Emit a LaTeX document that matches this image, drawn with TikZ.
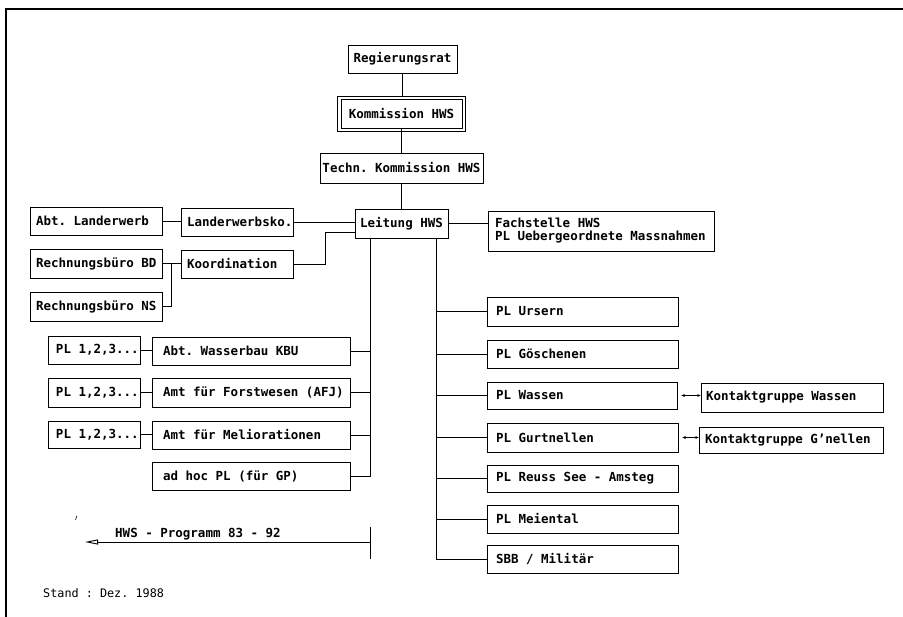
\documentclass[tikz,border=0pt]{standalone}
\usepackage{fontspec}
\newfontfamily\mono{DejaVu Sans Mono}
\usetikzlibrary{arrows.meta,calc}
\newcommand\bfont{\mono\bfseries\fontsize{12.5}{13}\selectfont\frenchspacing}
\newcommand\sfontx{\mono\fontsize{11.8}{13}\selectfont\frenchspacing}
\newcommand\fixsp{\frenchspacing\spaceskip=0pt\xspaceskip=0pt\relax}
% #1 extra style, #2 name, #3 x, #4 y (top), #5 width, #6 height, #7 pad, #8 text
\newcommand\bxn[8][]{%
  \pgfmathsetlengthmacro\bxtw{#5pt-2*#7pt}%
  \node[bx, minimum width=#5pt, minimum height=#6pt, inner xsep=#7pt, text width=\bxtw, #1] (#2) at (#3,#4) {\mbox{\fixsp #8}};}
\begin{document}
\begin{tikzpicture}[x=1pt,y=-1pt,
  bx/.style={draw, line width=0.9pt, anchor=north west, inner ysep=0pt, outer sep=0pt, align=left, font=\bfont},
  cn/.style={line width=0.9pt},
  ctr/.style={align=center}]
\useasboundingbox (0,0) rectangle (903,617);
% frame
\draw[line width=1.3pt] (6,617) -- (6,9) -- (903,9);
% top chain
\bxn[ctr]{reg}{348}{45}{109}{28}{2}{Regierungsrat}
\bxn[ctr, line width=0.8pt]{kom}{341}{99}{121}{29}{2}{Kommission HWS}
\draw[line width=0.8pt] ([shift={(-4pt,3pt)}]kom.north west) rectangle ([shift={(3pt,-3pt)}]kom.south east);
\bxn[ctr]{tech}{320}{153}{163}{30}{1}{Techn. Kommission HWS}
\bxn[ctr]{leit}{355}{209}{93}{29}{2}{Leitung HWS}
\node[bx, minimum width=226pt, minimum height=40pt, inner xsep=7pt, text width=212pt] (fach) at (488,211)
  {\mbox{\fixsp Fachstelle HWS}\\\mbox{\fixsp PL Uebergeordnete Massnahmen}};
% left group
\bxn{abtl}{30}{207}{132}{28}{6}{Abt. Landerwerb}
\bxn{lko}{181}{208}{112}{28}{6}{Landerwerbsko.}
\bxn{rbd}{30}{249}{132}{29}{6}{Rechnungsbüro BD}
\bxn{koord}{181}{250}{112}{28}{6}{Koordination}
\bxn{rns}{30}{292}{132}{29}{6}{Rechnungsbüro NS}
\bxn{pl1}{48}{336}{92}{28}{8}{PL 1,2,3...}
\bxn{wbau}{152}{337}{198}{28}{11}{Abt. Wasserbau KBU}
\bxn{pl2}{48}{378}{92}{29}{8}{PL 1,2,3...}
\bxn{forst}{152}{378}{198}{29}{11}{Amt für Forstwesen (AFJ)}
\bxn{pl3}{48}{421}{92}{27}{8}{PL 1,2,3...}
\bxn{melio}{152}{421}{198}{28}{11}{Amt für Meliorationen}
\bxn{adhoc}{152}{462}{198}{28}{11}{ad hoc PL (für GP)}
% right group
\bxn{urs}{487}{297}{191}{29}{9}{PL Ursern}
\bxn{gos}{487}{340}{191}{28}{9}{PL Göschenen}
\bxn{was}{487}{382}{190}{27}{9}{PL Wassen}
\bxn{kwas}{701}{383}{182}{29}{5}{Kontaktgruppe Wassen}
\bxn{gur}{487}{423}{191}{29}{9}{PL Gurtnellen}
\bxn{kgn}{699}{427}{184}{26}{6}{Kontaktgruppe G’nellen}
\bxn{reuss}{487}{465}{191}{27}{9}{PL Reuss See - Amsteg}
\bxn{mei}{487}{505}{191}{28}{9}{PL Meiental}
\bxn{sbb}{487}{545}{191}{28}{9}{SBB / Militär}
% connectors
\draw[cn] (reg.south) -- ++(0,23);
\draw[cn] (kom.south) -- (kom.south |- tech.north);
\draw[cn] (tech.south) -- (tech.south |- leit.north);
\draw[cn] (abtl.east) -- (abtl.east -| lko.west);
\draw[cn] (lko.east) -- (lko.east -| leit.west);
\draw[cn] (leit.east) -- (leit.east -| fach.west);
\draw[cn] (rbd.east) -- (rbd.east -| koord.west);
\coordinate (j1) at ($(rbd.east)!0.5!(rbd.east -| koord.west)$);
\draw[cn] (rns.east) -| (j1);
\draw[cn] (koord.east) -- ++(32,0) |- ([yshift=-8.5pt]leit.west);
\draw[cn] (pl1.east) -- (pl1.east -| wbau.west);
\draw[cn] (pl2.east) -- (pl2.east -| forst.west);
\draw[cn] (pl3.east) -- (pl3.east -| melio.west);
\coordinate (ls) at ([xshift=15pt]leit.south west);
\draw[cn] (ls) |- (adhoc.east);
\foreach \n in {wbau,forst,melio} \draw[cn] (\n.east) -- (\n.east -| ls);
\coordinate (rs) at ([xshift=-12pt]leit.south east);
\draw[cn] (rs) |- (sbb.west);
\foreach \n in {urs,gos,was,gur,reuss,mei} \draw[cn] (rs |- \n.west) -- (\n.west);
\draw[line width=0.7pt, {Latex[length=3.5pt,width=3pt]}-{Latex[length=3.5pt,width=3pt]}, shorten <=4pt] (was.east) -- (was.east -| kwas.west);
\draw[line width=0.7pt, {Latex[length=3.5pt,width=3pt]}-{Latex[length=3.5pt,width=3pt]}, shorten <=4pt] (gur.east) -- (gur.east -| kgn.west);
% programme arrow
\coordinate (pa) at (85,542);
\coordinate (pb) at (370,542);
\coordinate (ptop) at (370,527);
\coordinate (pbot) at (370,559);
\draw[cn, {Triangle[open,length=13pt,width=5pt]}-] (pa) -- (pb);
\draw[cn] (ptop) -- (pbot);
\node[font=\bfont, anchor=base west, inner sep=0pt] (prog) at (115,538) {HWS - Programm 83 - 92};
\draw[line width=0.6pt] (75.5,520) -- (76.8,516);
\node[font=\sfontx, anchor=base west, inner sep=0pt] (stand) at (43,597) {Stand : Dez. 1988};
\end{tikzpicture}
\end{document}
